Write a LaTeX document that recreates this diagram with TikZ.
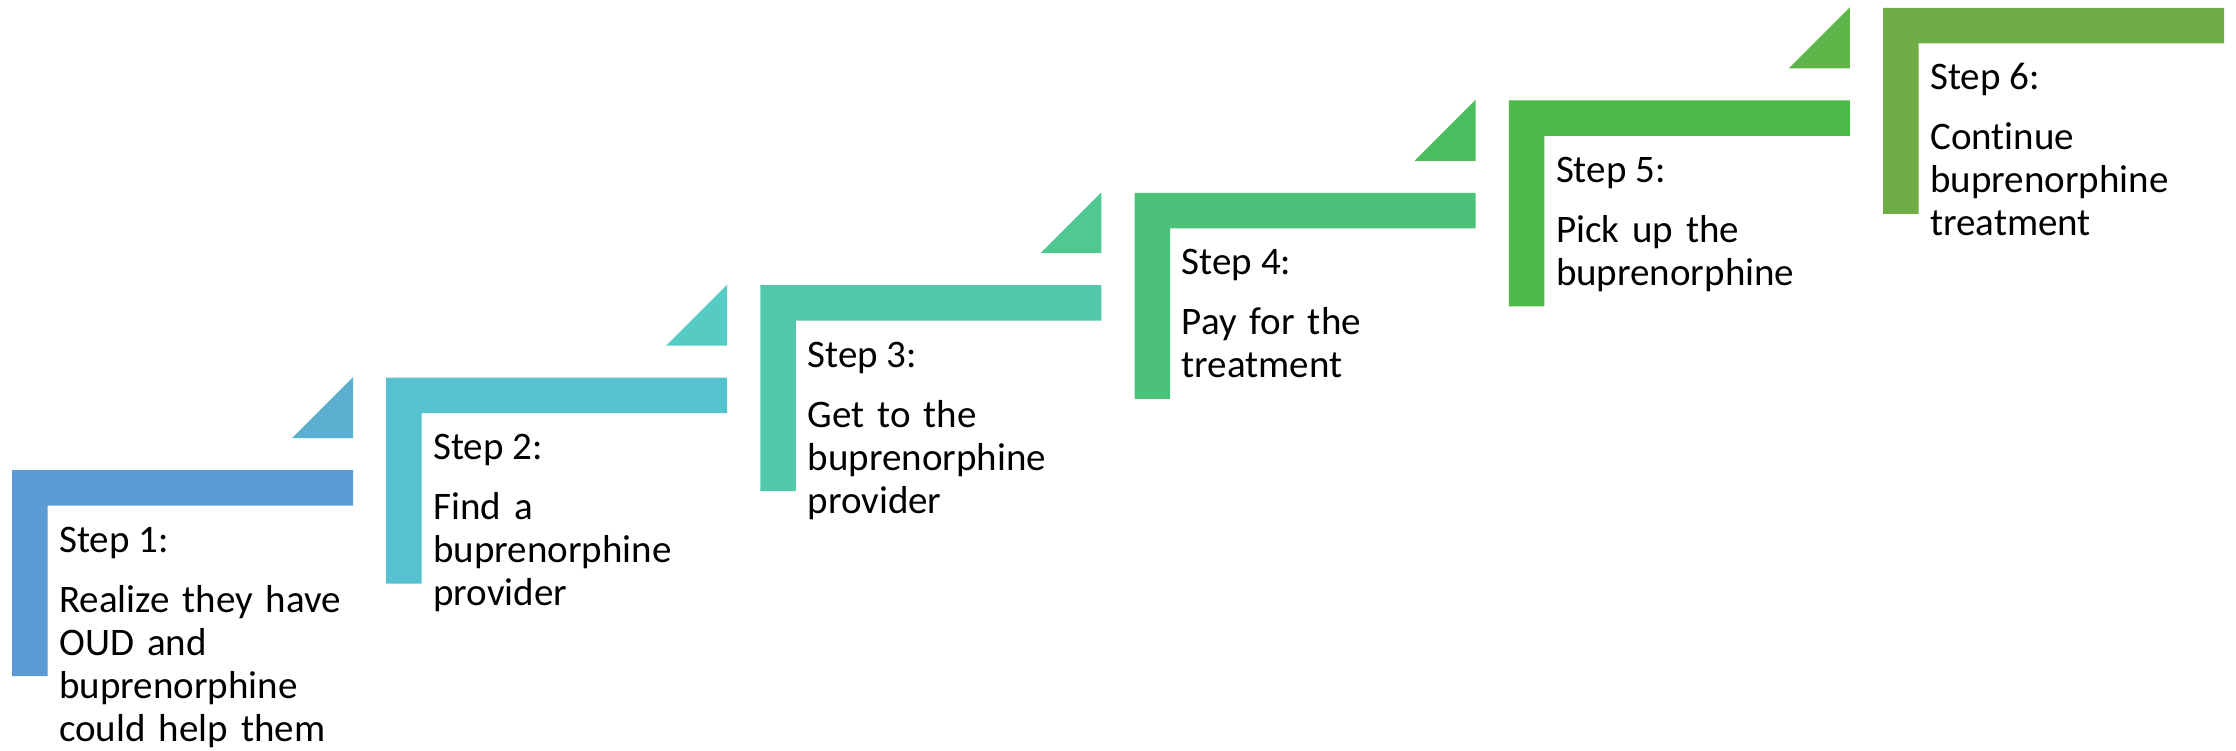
\documentclass[tikz,border=0pt]{standalone}
\usepackage{fontspec}
\setmainfont{Carlito}[Ligatures={NoCommon,NoRare,NoContextual}]
\definecolor{b1}{HTML}{5B9BD5}
\definecolor{b2}{HTML}{56C1CF}
\definecolor{b3}{HTML}{52C8AA}
\definecolor{b4}{HTML}{4CC17A}
\definecolor{b5}{HTML}{4BBA48}
\definecolor{b6}{HTML}{70AD47}
\definecolor{t1}{HTML}{5BAFD1}
\definecolor{t2}{HTML}{55CBC4}
\definecolor{t3}{HTML}{50C890}
\definecolor{t4}{HTML}{4CBD5F}
\definecolor{t5}{HTML}{5FB44A}
\begin{document}
\begin{tikzpicture}[x=1pt,y=-1pt,
  steptitle/.style={anchor=base west, inner sep=0pt, font=\fontsize{39}{43}\selectfont},
  stepbody/.style={anchor=base west, inner sep=0pt, text width=400pt, align=left, font=\fontsize{39}{43}\selectfont}]
\useasboundingbox (0,0) rectangle (2236,751);
% L-shaped bars
\foreach \k/\cb in {0/b1,1/b2,2/b3,3/b4,4/b5,5/b6}{
  \pgfmathsetmacro\L{12+374.2*\k}
  \pgfmathsetmacro\T{470-92.4*\k}
  \fill[\cb] (\L,\T) -- ++(341,0) -- ++(0,35.5) -- ++(-305.5,0) -- ++(0,170.5) -- ++(-35.5,0) -- cycle;
}
% triangles
\foreach \k/\ct in {0/t1,1/t2,2/t3,3/t4,4/t5}{
  \pgfmathsetmacro\L{12+374.2*\k}
  \pgfmathsetmacro\T{470-92.4*\k}
  \fill[\ct] (\L+341,\T-93) -- (\L+341,\T-32) -- (\L+280,\T-32) -- cycle;
}
% texts
\node[steptitle] (s1t) at (59,552) {Step 1:};
\node[stepbody]  (s1b) at (59,612) {Realize they have\\OUD and\\buprenorphine\\could help them};
\node[steptitle] (s2t) at (433.2,459.6) {Step 2:};
\node[stepbody]  (s2b) at (433.2,519.6) {Find a\\buprenorphine\\provider};
\node[steptitle] (s3t) at (807.4,367.2) {Step 3:};
\node[stepbody]  (s3b) at (807.4,427.2) {Get to the\\buprenorphine\\provider};
\node[steptitle] (s4t) at (1181.6,274.8) {Step 4:};
\node[stepbody]  (s4b) at (1181.6,334.8) {Pay for the\\treatment};
\node[steptitle] (s5t) at (1555.8,182.4) {Step 5:};
\node[stepbody]  (s5b) at (1555.8,242.4) {Pick up the\\buprenorphine};
\node[steptitle] (s6t) at (1930,90) {Step 6:};
\node[stepbody]  (s6b) at (1930,150) {Continue\\buprenorphine\\treatment};
\end{tikzpicture}
\end{document}
